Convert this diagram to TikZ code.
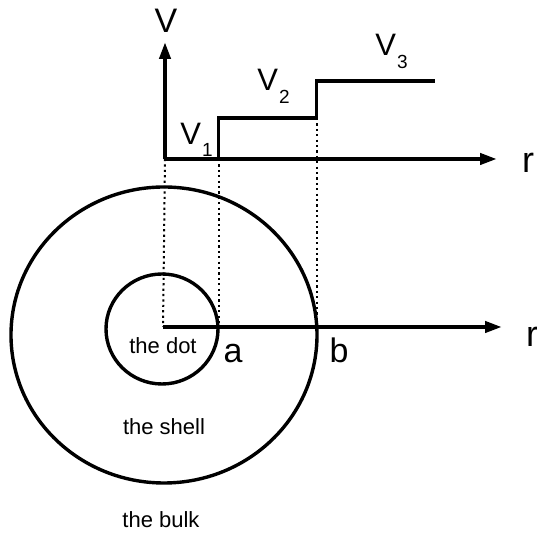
\documentclass[tikz,border=0pt]{standalone}
\usepackage{fontspec}
\setmainfont{Liberation Sans}
\usetikzlibrary{arrows.meta}
\begin{document}
\begin{tikzpicture}[x=0.5pt,y=-0.5pt,
  axis/.style={line width=2pt,-{Triangle[length=8.5pt,width=5.5pt]}},
  stepline/.style={line width=1.8pt},
  ring/.style={line width=1.7pt},
  guide/.style={line width=1pt,dash pattern=on 1.1pt off 1.6pt},
  big/.style={font=\fontsize{17}{20}\selectfont,inner sep=0pt,anchor=base},
  small/.style={font=\fontsize{11}{13}\selectfont,inner sep=0pt},
  vlab/.style={font=\fontsize{15.5}{18}\selectfont,inner sep=0pt,anchor=base west}]
\useasboundingbox (0,0) rectangle (537,533);
% upper graph
\coordinate (O1) at (165,159);
\coordinate (Vtip) at (165,42);
\coordinate (Rtip) at (497,159);
\coordinate (s1) at (218.5,159);
\coordinate (s1t) at (218.5,118);
\coordinate (s2) at (316.5,118);
\coordinate (s2t) at (316.5,81);
\coordinate (s3) at (435,81);
% lower axis
\coordinate (O2) at (163,327);
\coordinate (R2tip) at (502,327);
\coordinate (a2) at (218.5,327);
\coordinate (b2) at (316.5,327);
% circle centres
\coordinate (cdot) at (162,329);
\coordinate (cshell) at (164,335);
\draw[ring] (cdot) ellipse[x radius=56,y radius=55];
\draw[ring] (cshell) ellipse[x radius=153,y radius=148];
% dotted guides
\draw[guide] (O1) -- (O2);
\draw[guide] (s1) -- (a2);
\draw[guide] (s2) -- (b2);
% axes
\draw[axis] (O1) -- (Vtip);
\draw[axis] (O1) -- (Rtip);
\draw[axis] (O2) -- (R2tip);
% step potential
\draw[stepline,line join=miter] (O1) -- (s1) -- (s1t) -- (s2) -- (s2t) -- (s3);
% labels
\node[big] (Vlab) at (166,33) {V};
\node[big,font=\fontsize{18}{20}\selectfont] (r1) at (528,173) {r};
\node[big,font=\fontsize{18}{20}\selectfont] (r2) at (532,347) {r};
\node[vlab] (V1) at (180,145) {V\kern0.5pt\raisebox{-6pt}{\fontsize{9.5}{11}\selectfont 1}};
\node[vlab] (V2) at (257,91) {V\kern0.5pt\raisebox{-6.5pt}{\fontsize{9.5}{11}\selectfont 2}};
\node[vlab] (V3) at (375,56) {V\kern0.5pt\raisebox{-6.5pt}{\fontsize{9.5}{11}\selectfont 3}};
\node[big] (alab) at (233,363) {a};
\node[big] (blab) at (339,363) {b};
\node[small] (dotlab) at (163,346) {the dot};
\node[small] (shelllab) at (164,427) {the shell};
\node[small] (bulklab) at (161,520) {the bulk};
\end{tikzpicture}
\end{document}
